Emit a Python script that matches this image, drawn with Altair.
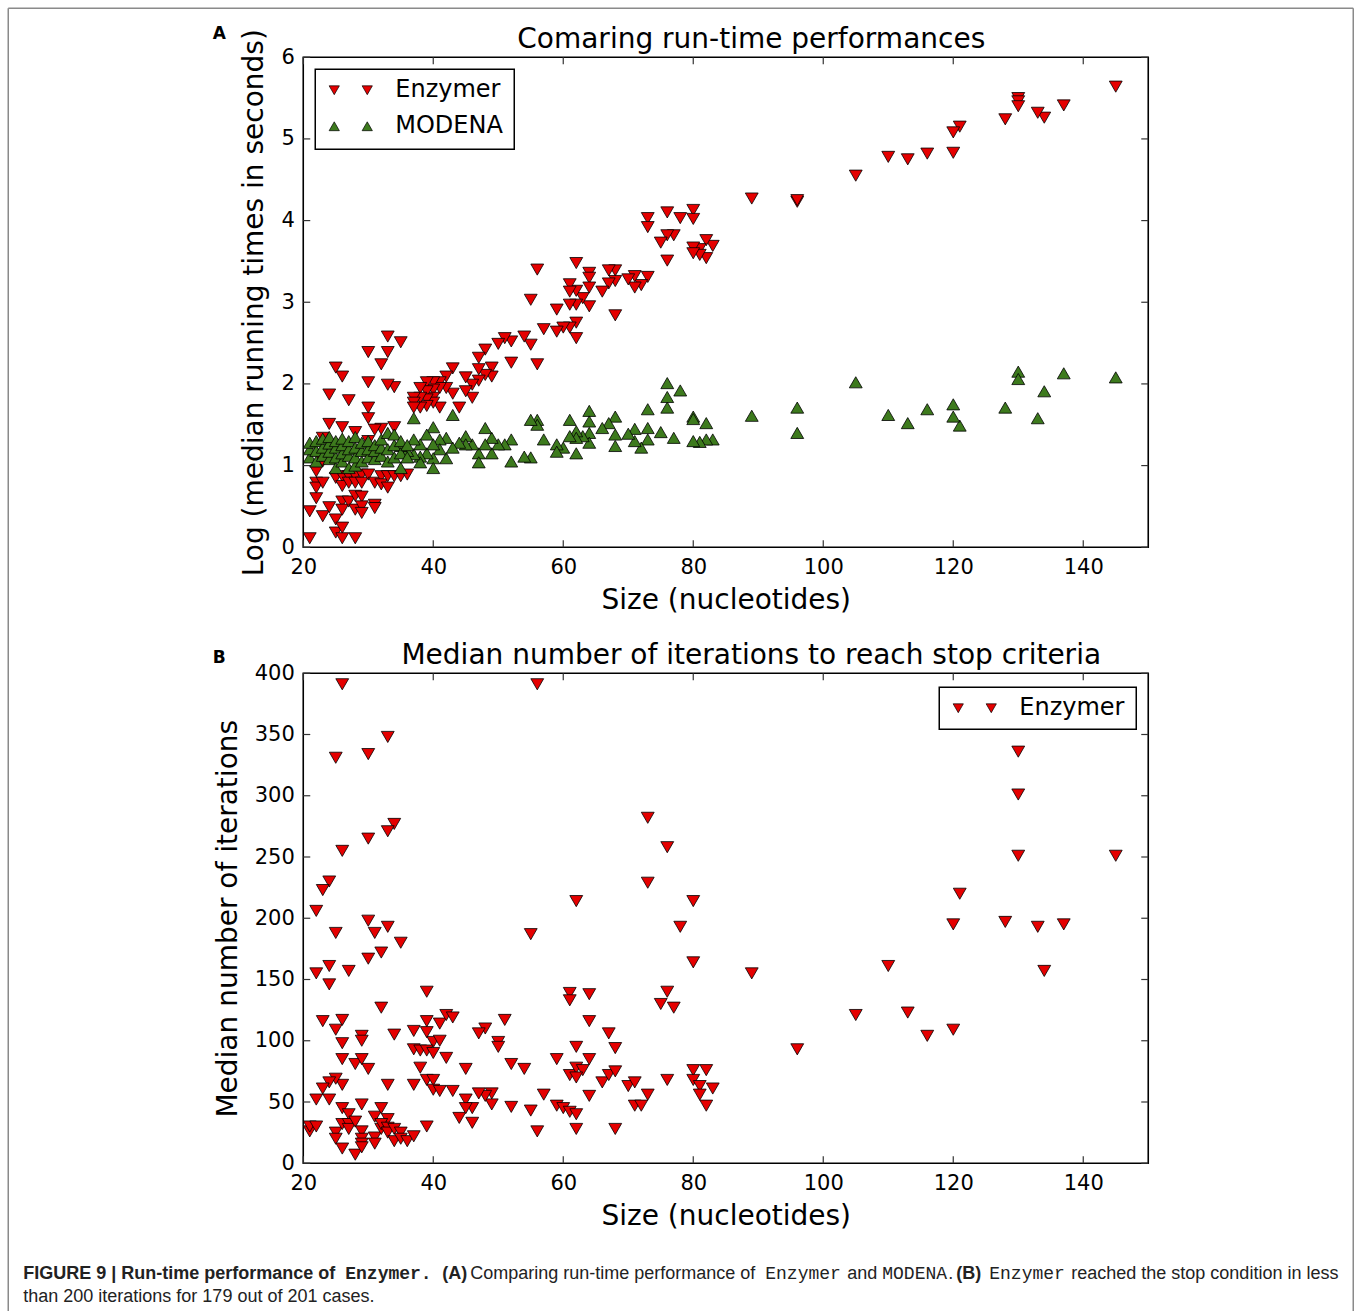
import altair as alt
import pandas as pd

# ---------------- data ----------------
# Panel A: log of median running time (s) against sequence size
enz_a_size = [145, 137, 134, 133, 130, 130, 130, 128, 121, 120, 120, 116, 113, 110, 105, 96, 96, 89,
              83, 82, 82, 81, 81, 80, 80, 80, 80, 78, 77, 76, 76, 76, 75, 73, 73, 73, 72, 71, 71, 70,
              68, 68, 68, 67, 67, 66, 64, 64, 64, 64, 63, 62, 62, 62, 62, 62, 61, 61, 61, 61, 60, 59,
              59, 57, 56, 56, 55, 55, 54, 52, 52, 51, 50, 49, 49, 48, 48, 47, 47, 47, 46, 46, 45, 45,
              44, 43, 43, 42, 42, 41, 41, 41, 40, 40, 40, 40, 39, 39, 39, 39, 38, 38, 38, 37, 37, 37,
              35, 34, 34, 33, 33, 33, 32, 32, 31, 30, 30, 30, 30, 30, 28, 27, 26, 26, 25, 24, 24, 23,
              23, 22, 22, 22, 22, 23, 23, 21, 21, 24, 25, 25, 25, 26, 26, 26, 26, 26, 26, 27, 27, 27,
              28, 28, 28, 28, 28, 29, 29, 29, 29, 29, 30, 31, 31, 31, 32, 32, 33, 33, 34, 35, 36]
enz_a_time = [5.64, 5.41, 5.26, 5.32, 5.50, 5.46, 5.40, 5.24, 5.15, 5.08, 4.83, 4.82, 4.75, 4.78, 4.55,
              4.23, 4.25, 4.27, 3.69, 3.76, 3.54, 3.65, 3.58, 4.13, 4.02, 3.67, 3.60, 4.03, 3.82, 4.10,
              3.82, 3.51, 3.73, 4.03, 3.92, 3.31, 3.21, 3.32, 3.18, 3.28, 3.39, 3.26, 2.84, 3.39, 3.23,
              3.13, 3.36, 3.30, 3.18, 2.95, 3.05, 3.48, 3.14, 2.97, 2.75, 2.56, 3.22, 3.13, 2.97, 2.69,
              2.69, 2.91, 2.64, 2.67, 3.40, 2.24, 3.03, 2.48, 2.58, 2.52, 2.26, 2.56, 2.49, 2.20, 2.09,
              2.42, 2.11, 2.32, 2.18, 2.04, 1.99, 1.83, 2.08, 1.91, 1.71, 2.19, 1.88, 2.09, 1.95, 2.02,
              1.95, 1.71, 2.02, 1.93, 1.83, 1.77, 2.02, 1.91, 1.81, 1.73, 1.95, 1.83, 1.71, 1.83, 1.77,
              1.71, 2.51, 1.96, 1.47, 2.58, 2.39, 1.99, 2.24, 1.45, 1.44, 2.39, 2.02, 1.71, 1.58, 1.30,
              1.41, 1.80, 2.09, 1.47, 2.20, 1.87, 1.51, 1.34, 1.05, 0.93, 0.79, 0.73, 0.60, 0.79, 0.38,
              0.44, 0.11, 0.49, 0.85, 0.34, 0.18, 0.87, 0.75, 0.56, 0.46, 0.24, 0.11, 0.87, 0.79, 0.56,
              0.87, 0.79, 0.63, 0.46, 0.11, 0.89, 0.79, 0.62, 0.50, 0.42, 0.89, 0.79, 0.52, 0.48, 0.87,
              0.77, 0.87, 0.73, 0.87, 0.87, 0.89]

mod_size = [145, 137, 134, 133, 130, 130, 128, 121, 120, 120, 116, 113, 110, 105, 96, 96, 89,
            83, 82, 82, 81, 80, 80, 80, 78, 77, 76, 76, 76, 75, 73, 73, 73, 72, 71, 71, 70, 68, 68,
            68, 67, 66, 64, 64, 64, 64, 63, 62, 62, 62, 61, 61, 60, 59, 59, 57, 56, 56, 55, 55, 54,
            52, 52, 51, 50, 49, 49, 48, 48, 47, 47, 46, 45, 45, 44, 43, 43, 42, 42, 41, 41, 40, 40,
            40, 40, 39, 39, 38, 38, 38, 37, 37, 37, 36, 35, 35,
            21, 21, 21, 22, 22, 22, 23, 23, 23, 24, 24, 24, 24, 25, 25, 25, 25, 26, 26, 26, 26,
            27, 27, 27, 27, 28, 28, 28, 28, 29, 29, 29, 30, 30, 30, 31, 31, 31, 32, 32, 32, 33, 33,
            33, 34, 34, 34, 35, 35, 36, 36]
mod_time = [2.08, 2.13, 1.91, 1.58, 2.15, 2.06, 1.71, 1.49, 1.75, 1.60, 1.69, 1.52, 1.62, 2.02, 1.71,
            1.40, 1.61, 1.32, 1.52, 1.32, 1.29, 1.60, 1.57, 1.30, 1.92, 1.34, 2.01, 1.84, 1.71, 1.41,
            1.69, 1.46, 1.32, 1.22, 1.45, 1.30, 1.39, 1.60, 1.38, 1.24, 1.52, 1.46, 1.67, 1.54, 1.40,
            1.28, 1.36, 1.42, 1.34, 1.15, 1.56, 1.36, 1.22, 1.26, 1.17, 1.32, 1.56, 1.50, 1.56, 1.10,
            1.11, 1.32, 1.05, 1.26, 1.26, 1.34, 1.15, 1.46, 1.26, 1.15, 1.04, 1.26, 1.36, 1.26, 1.28,
            1.62, 1.22, 1.34, 1.09, 1.32, 1.20, 1.47, 1.26, 1.09, 0.97, 1.38, 1.15, 1.26, 1.11, 1.04,
            1.58, 1.32, 1.14, 1.18, 1.24, 0.97,
            1.10, 1.20, 1.28, 1.05, 1.18, 1.30, 1.12, 1.22, 1.33, 1.08, 1.17, 1.27, 1.35, 0.97, 1.10,
            1.22, 1.30, 1.05, 1.15, 1.25, 1.33, 0.97, 1.12, 1.20, 1.30, 1.00, 1.10, 1.22, 1.35, 1.05,
            1.18, 1.28, 1.10, 1.20, 1.30, 1.08, 1.18, 1.25, 1.12, 1.22, 1.32, 1.05, 1.20, 1.40, 1.10,
            1.25, 1.38, 1.15, 1.30, 1.10, 1.25]

# Panel B: median number of iterations against sequence size
enz_b_size = [26, 33, 25, 30, 34, 33, 30, 26, 24, 23, 22, 30, 31, 33, 25, 35, 32, 30, 22, 24, 27, 24,
              32, 39, 23, 26, 25, 29, 29, 34, 26, 37, 39, 39, 41, 42, 43, 40, 41, 37, 38, 39, 40, 42,
              26, 28, 29, 30, 38, 39, 40, 40, 41, 43, 37, 33, 26, 25, 24, 23, 22, 24, 26, 27, 29, 31,
              32, 33, 39, 44, 21, 21, 22, 25, 25, 26, 26, 27, 27, 28, 28, 29, 29, 29, 29, 31, 31, 32,
              32, 33, 33, 34, 34, 35, 35, 36, 37,
              56, 73, 76, 73, 62, 80, 78, 55, 80, 89, 61, 61, 64, 76, 75, 77, 64, 51, 48, 47, 50, 50,
              67, 68, 62, 59, 64, 52, 54, 45, 61, 62, 63, 62, 66, 67, 68, 70, 71, 73, 71, 72, 76, 80,
              82, 80, 81, 83, 81, 82, 64, 57, 56, 62, 68, 59, 60, 61, 62, 55, 52, 49, 49, 48, 47, 46,
              46, 45, 45,
              130, 130, 130, 145, 121, 120, 128, 133, 137, 110, 134, 105, 113, 116, 120, 96]
enz_b_iter = [391, 348, 331, 334, 277, 271, 265, 255, 230, 223, 206, 198, 188, 193, 188, 180, 172, 167,
              155, 161, 157, 146, 127, 140, 116, 117, 109, 104, 100, 105, 98, 108, 107, 116, 114, 121,
              119, 99, 100, 93, 92, 92, 90, 86, 85, 81, 85, 77, 78, 68, 68, 60, 59, 59, 64, 64, 64, 69,
              66, 61, 52, 52, 45, 40, 48, 38, 45, 36, 30, 37, 26, 30, 30, 25, 20, 32, 12, 32, 28, 34,
              7, 26, 20, 16, 13, 21, 16, 28, 32, 29, 25, 28, 18, 25, 20, 18, 22,
              391, 282, 258, 229, 214, 214, 193, 187, 164, 155, 139, 133, 138, 140, 130, 127, 116, 117,
              110, 106, 99, 95, 106, 94, 95, 85, 85, 81, 77, 77, 72, 78, 76, 70, 66, 72, 75, 63, 66, 56,
              47, 47, 68, 76, 76, 68, 63, 61, 56, 47, 55, 56, 26, 28, 28, 47, 45, 42, 40, 43, 46, 57,
              48, 55, 57, 45, 33, 52, 45,
              336, 301, 251, 251, 220, 195, 197, 193, 195, 161, 157, 121, 123, 104, 109, 93]

x_ticks = [20, 40, 60, 80, 100, 120, 140]
y_ticks_a = [0, 1, 2, 3, 4, 5, 6]
y_ticks_b = [0, 50, 100, 150, 200, 250, 300, 350, 400]

series_a = ["Enzymer", "MODENA"]
series_b = ["Enzymer"]

# ---------------- styling ----------------
W, H = 845, 490
FONT = "DejaVu Sans"
RED = "#e50000"
GREEN = "#3d7a1d"
TICK_COLOR = "#333333"
MARK_SIZE = 165
LEG_SIZE = 105

df_enz_a = pd.DataFrame({"size": enz_a_size, "value": enz_a_time})
df_mod_a = pd.DataFrame({"size": mod_size, "value": mod_time})
df_enz_b = pd.DataFrame({"size": enz_b_size, "value": enz_b_iter})

x_scale = alt.Scale(domain=[20, 150], nice=False, zero=False)


def x_enc(field="size"):
    return alt.X(
        f"{field}:Q", scale=x_scale,
        axis=alt.Axis(values=x_ticks, format="d", title="Size (nucleotides)", ticks=False,
                      domain=False, grid=False, labelPadding=9, titlePadding=9,
                      labelFontSize=21, titleFontSize=28, labelFont=FONT, titleFont=FONT,
                      titleFontWeight="normal", labelColor="black", titleColor="black",
                      labelFlush=False, labelOverlap=False))


def y_enc(domain, ticks, title, field="value", title_pad=10):
    return alt.Y(
        f"{field}:Q", scale=alt.Scale(domain=domain, nice=False, zero=False),
        axis=alt.Axis(values=ticks, format="d", title=title, ticks=False, domain=False,
                      grid=False, labelPadding=9, titlePadding=title_pad, labelFontSize=21,
                      titleFontSize=28, labelFont=FONT, titleFont=FONT,
                      titleFontWeight="normal", labelColor="black", titleColor="black",
                      labelFlush=False, labelOverlap=False))


def one(text):
    return pd.DataFrame({"t": [text]})


def tick_layers(yd, yt, ytitle, tpad):
    """Inward-pointing ticks on all four sides of the frame."""
    xt = pd.DataFrame({"size": x_ticks})
    ydf = pd.DataFrame({"value": yt})
    rule = dict(color=TICK_COLOR, strokeWidth=1.2)
    L = 7
    return [
        alt.Chart(xt).mark_rule(**rule).encode(x=x_enc(), y=alt.value(0), y2=alt.value(L)),
        alt.Chart(xt).mark_rule(**rule).encode(x=x_enc(), y=alt.value(H - L), y2=alt.value(H)),
        alt.Chart(ydf).mark_rule(**rule).encode(y=y_enc(yd, yt, ytitle, title_pad=tpad),
                                               x=alt.value(0), x2=alt.value(L)),
        alt.Chart(ydf).mark_rule(**rule).encode(y=y_enc(yd, yt, ytitle, title_pad=tpad),
                                               x=alt.value(W - L), x2=alt.value(W)),
    ]


def points(df, shape, color, yd, yt, ytitle, tpad):
    return alt.Chart(df).mark_point(
        shape=shape, filled=True, fill=color, stroke="black", strokeWidth=0.8,
        size=MARK_SIZE, opacity=1, fillOpacity=1,
    ).encode(x=x_enc(), y=y_enc(yd, yt, ytitle, title_pad=tpad))


def legend_layers(x0, y0, x1, y1, entries):
    layers = [alt.Chart(one("box")).mark_rect(fill="white", stroke="black", strokeWidth=1.5)
              .encode(x=alt.value(x0), x2=alt.value(x1), y=alt.value(y0), y2=alt.value(y1))]
    for name, shape, color, ym in entries:
        for xm in (x0 + 19, x0 + 52):
            layers.append(alt.Chart(one(name)).mark_point(
                shape=shape, filled=True, fill=color, stroke="black", strokeWidth=0.7,
                size=LEG_SIZE, opacity=1).encode(x=alt.value(xm), y=alt.value(ym)))
        layers.append(alt.Chart(one(name)).mark_text(
            font=FONT, fontSize=24, align="left", baseline="middle", color="black")
            .encode(x=alt.value(x0 + 80), y=alt.value(ym), text="t:N"))
    return layers


def heading(text, letter, letter_y):
    return [
        alt.Chart(one(text)).mark_text(font=FONT, fontSize=28, align="center",
                                       baseline="alphabetic", color="black")
        .encode(x=alt.value(448), y=alt.value(-9), text="t:N"),
        alt.Chart(one(letter)).mark_text(font=FONT, fontSize=17, fontWeight="bold",
                                         align="center", baseline="alphabetic", color="black")
        .encode(x=alt.value(-84), y=alt.value(letter_y), text="t:N"),
    ]


# ---------------- panel A ----------------
YA = [0, 6]
TA = "Log (median running times in seconds)"
frame_color = "#8a8a8a"
frame = [
    alt.Chart(one("l")).mark_rule(color=frame_color, strokeWidth=1.5)
    .encode(x=alt.value(-295), y=alt.value(-49), y2=alt.value(1254)),
    alt.Chart(one("r")).mark_rule(color=frame_color, strokeWidth=1.5)
    .encode(x=alt.value(1050), y=alt.value(-49), y2=alt.value(1254)),
    alt.Chart(one("t")).mark_rule(color=frame_color, strokeWidth=1.5)
    .encode(x=alt.value(-295), x2=alt.value(1050), y=alt.value(-49)),
]

panel_a = alt.layer(
    *tick_layers(YA, y_ticks_a, TA, 12),
    points(df_enz_a, "triangle-down", RED, YA, y_ticks_a, TA, 12),
    points(df_mod_a, "triangle-up", GREEN, YA, y_ticks_a, TA, 12),
    *legend_layers(12, 12, 211, 92, [(series_a[0], "triangle-down", RED, 33),
                                    (series_a[1], "triangle-up", GREEN, 69)]),
    *heading("Comaring run-time performances", "A", -18),
    *frame,
).properties(width=W, height=H)

# ---------------- panel B ----------------
YB = [0, 400]
TB = "Median number of iterations"

MONO = "Liberation Mono"
CAP = "Liberation Sans Narrow, Liberation Sans, Arial, sans-serif"
# caption segments, x offsets relative to the lower panel's left edge
caption_parts = [
    (-280, 0, "FIGURE 9 | Run-time performance of", CAP, "bold"),
    (42, 0, "Enzymer.", MONO, "bold"),
    (139, 0, "(A)", CAP, "bold"),
    (167, 0, "Comparing run-time performance of", CAP, "normal"),
    (462, 0, "Enzymer", MONO, "normal"),
    (544, 0, "and", CAP, "normal"),
    (579, 0, "MODENA", MONO, "normal"),
    (645, 0, ".", CAP, "normal"),
    (653, 0, "(B)", CAP, "bold"),
    (686, 0, "Enzymer", MONO, "normal"),
    (768, 0, "reached the stop condition in less", CAP, "normal"),
    (-280, 1, "than 200 iterations for 179 out of 201 cases.", CAP, "normal"),
]
caption = []
for cx, line, txt, fnt, wt in caption_parts:
    caption.append(
        alt.Chart(one(txt)).mark_text(font=fnt, fontSize=18, fontWeight=wt, align="left",
                                      baseline="alphabetic", color="#222222")
        .encode(x=alt.value(cx), y=alt.value(606 + 23 * line), text="t:N"))

panel_b = alt.layer(
    *tick_layers(YB, y_ticks_b, TB, 12),
    points(df_enz_b, "triangle-down", RED, YB, y_ticks_b, TB, 12),
    *legend_layers(636, 14, 833, 56, [(series_b[0], "triangle-down", RED, 35)]),
    *heading("Median number of iterations to reach stop criteria", "B", -10),
    *caption,
).properties(width=W, height=H)

chart = alt.vconcat(panel_a, panel_b, spacing=126, bounds="flush").properties(
    padding={"left": 6.25, "top": 6.25, "right": 0, "bottom": 0},
    background="white",
).configure_view(stroke="black", strokeWidth=1.6)

chart.save("out.html", embed_options={"renderer": "svg", "actions": False})
